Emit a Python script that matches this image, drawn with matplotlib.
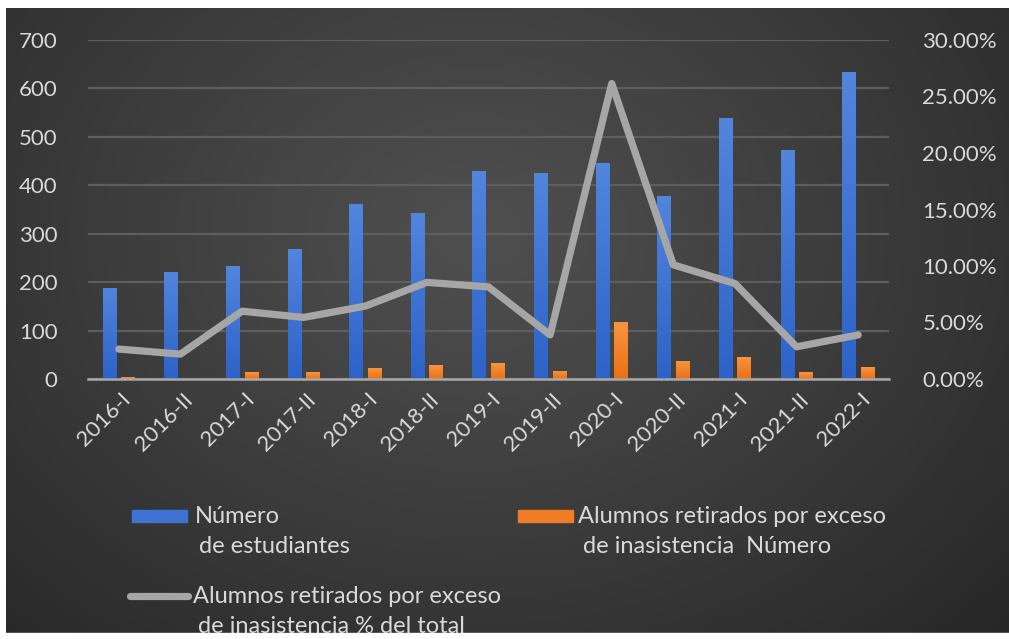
import numpy as np
import matplotlib.pyplot as plt
from matplotlib.colors import LinearSegmentedColormap
from matplotlib.patches import Rectangle
from matplotlib.lines import Line2D
from matplotlib.ticker import FuncFormatter
import matplotlib.transforms as mtransforms

# datos
periodos = ['2016-I', '2016-II', '2017-I', '2017-II', '2018-I', '2018-II', '2019-I',
            '2019-II', '2020-I', '2020-II', '2021-I', '2021-II', '2022-I']
estudiantes = [188, 221, 234, 269, 361, 343, 430, 425, 446, 378, 538, 472, 633]
retirados = [4, 0, 14, 14, 22, 28, 33, 17, 117, 37, 45, 14, 24]
porcentaje = [2.65, 2.2, 6.0, 5.45, 6.45, 8.55, 8.15, 3.9, 26.15, 10.1, 8.45, 2.85, 3.9]

plt.rcParams['font.family'] = ['Lato', 'DejaVu Sans']
texto = '#d9d9d9'
azul = '#3d70d0'
naranja = '#f07c26'
gris = '#a6a6a6'

W, H = 1009, 639
fig = plt.figure(figsize=(W / 100, H / 100), dpi=100, facecolor='white')

def px(x, y):
    # pixeles (desde arriba) a fraccion de figura
    return x / W, (H - y) / H

# fondo oscuro con degradado radial
bg = fig.add_axes([6 / W, 6 / H, 1 - 6 / W, 625 / H], zorder=-5)
bg.set_axis_off()
yy, xx = np.mgrid[0:1:300j, 0:1:480j]
r = np.sqrt(((xx - 0.47) / 0.75) ** 2 + ((yy - 0.36) / 0.95) ** 2)
r = np.clip(r, 0, 1) ** 1.1
fondo = LinearSegmentedColormap.from_list('fondo', ['#4f4f4f', '#262626'])
bg.imshow(r, cmap=fondo, vmin=0, vmax=1, aspect='auto', extent=[0, 1, 0, 1], origin='upper')
bg.set_xlim(0, 1)
bg.set_ylim(0, 1)

# ejes principales
x0, y0 = px(88, 379)
x1, y1 = px(889, 40)
ax = fig.add_axes([x0, y0, x1 - x0, y1 - y0])
ax.patch.set_alpha(0)
x = np.arange(len(periodos))

b1 = ax.bar(x - 0.15, estudiantes, 0.22, color=azul, zorder=3)
b2 = ax.bar(x + 0.15, retirados, 0.22, color=naranja, zorder=3)

# degradado en las barras
grad = np.linspace(1, 0, 100).reshape(-1, 1)
cm_azul = LinearSegmentedColormap.from_list('az', ['#2d62c8', '#5285dc'])
cm_nar = LinearSegmentedColormap.from_list('na', ['#ec7014', '#f7953f'])
for barras, cm in ((b1, cm_azul), (b2, cm_nar)):
    for rect in barras:
        h = rect.get_height()
        if h <= 0:
            continue
        xl = rect.get_x()
        im = ax.imshow(grad, cmap=cm, vmin=0, vmax=1, aspect='auto',
                       extent=[xl, xl + rect.get_width(), 0, h], zorder=3.1)
        im.set_clip_path(rect)

ax.set_xlim(-0.5, len(periodos) - 0.5)
ax.set_ylim(0, 700)
ax.set_yticks(range(0, 701, 100))
ax.yaxis.grid(True, color='#5e5e5e', lw=1.6)
ax.set_axisbelow(True)
for s in ['top', 'left', 'right']:
    ax.spines[s].set_visible(False)
ax.spines['bottom'].set_color('#a8a8a8')
ax.spines['bottom'].set_linewidth(1.8)
ax.spines['bottom'].set_zorder(4)
ax.tick_params(axis='y', length=0, pad=22, labelsize=16, labelcolor=texto)
ax.tick_params(axis='x', length=0, pad=4, labelsize=16, labelcolor=texto)
ax.set_xticks(x)
ax.set_xticklabels(periodos, rotation=45, ha='right', va='center', rotation_mode='anchor')
for lbl in ax.get_xticklabels():
    lbl.set_transform(lbl.get_transform() +
                      mtransforms.ScaledTranslation(0.09, -0.12, fig.dpi_scale_trans))

# eje secundario con porcentaje
ax2 = ax.twinx()
ax2.plot(x, porcentaje, color=gris, lw=5.2, solid_joinstyle='round',
         solid_capstyle='round', zorder=5)
ax2.set_ylim(0, 30)
ax2.set_yticks(range(0, 31, 5))
ax2.yaxis.set_major_formatter(FuncFormatter(lambda v, p: f'{v:.2f}%'))
for s in ax2.spines.values():
    s.set_visible(False)
ax2.tick_params(axis='y', length=0, pad=24, labelsize=16, labelcolor=texto)

# leyenda
fs = 17
lx, ly = px(132, 522)
fig.patches.append(Rectangle((lx, ly), 55 / W, 12 / H, transform=fig.transFigure,
                             color='#3f72d2', zorder=3))
lx, ly = px(518, 522)
fig.patches.append(Rectangle((lx, ly), 55 / W, 12 / H, transform=fig.transFigure,
                             color=naranja, zorder=3))
fig.lines.append(Line2D([130 / W, 188 / W], [(H - 596) / H] * 2, transform=fig.transFigure,
                        color=gris, lw=5.2, solid_capstyle='round', zorder=3))

lineas = [(195, 523, 'Número'), (199, 553, 'de estudiantes'),
          (578, 523, 'Alumnos retirados por exceso'), (583, 553, 'de inasistencia  Número'),
          (193, 603, 'Alumnos retirados por exceso'), (198, 633, 'de inasistencia % del total')]
for tx, ty, s in lineas:
    fx, fy = px(tx, ty)
    fig.text(fx, fy, s, fontsize=fs, color=texto, va='baseline', ha='left', zorder=3)

# borde blanco inferior que recorta el texto
fig.patches.append(Rectangle((0, 0), 1, 6 / H, transform=fig.transFigure,
                             color='white', zorder=10))

fig.savefig('out.png', dpi=100, facecolor='white')
